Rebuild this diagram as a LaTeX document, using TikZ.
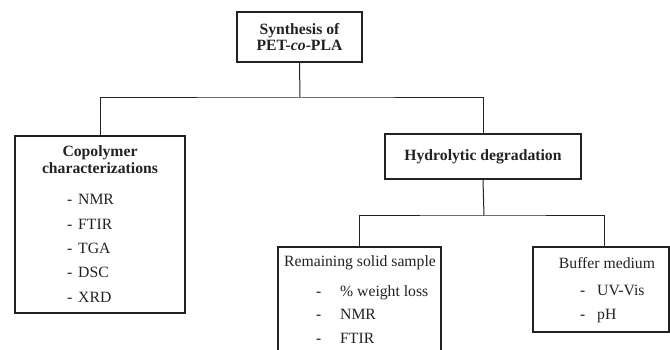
\documentclass[tikz,border=0pt]{standalone}
\usepackage{fontspec}
\setmainfont{Liberation Serif}
\definecolor{ink}{HTML}{222222}
\begin{document}
\begin{tikzpicture}[x=1pt,y=-1pt,
  box/.style={draw=ink, line width=1.1pt, inner sep=0pt},
  conn/.style={draw=ink, line width=1pt},
  ttl/.style={font=\fontsize{15.7}{16.5}\selectfont\bfseries, align=center, inner sep=0pt, text=ink},
  sub/.style={font=\fontsize{15.7}{17}\selectfont, inner sep=0pt, text=ink},
  itm/.style={font=\fontsize{15.7}{17}\selectfont, inner sep=0pt, anchor=base west, text=ink},
]
\useasboundingbox (0,0) rectangle (670,350);
\clip (0,0) rectangle (670,350);

% top box
\node[box, minimum width=125pt, minimum height=50pt] (top) at (299.5,37) {};
\node[ttl] (toptxt) at (299.5,37) {Synthesis of\\PET-\textit{co}-PLA};

% left box
\node[box, minimum width=170pt, minimum height=177pt] (left) at (100,224.5) {};
\node[ttl] (lefttxt) at (100,159.5) {Copolymer\\characterizations};
\node[itm] (l1d) at (67,205) {-};
\node[itm] (l1) at (78,205) {NMR};
\node[itm] (l2d) at (67,229.25) {-};
\node[itm] (l2) at (78,229.25) {FTIR};
\node[itm] (l3d) at (67,253.5) {-};
\node[itm] (l3) at (78,253.5) {TGA};
\node[itm] (l4d) at (67,277.75) {-};
\node[itm] (l4) at (78,277.75) {DSC};
\node[itm] (l5d) at (67,302) {-};
\node[itm] (l5) at (78,302) {XRD};

% hydrolytic box
\node[box, minimum width=196pt, minimum height=45pt] (hyd) at (483,156.5) {};
\node[ttl] (hydtxt) at (483,157) {Hydrolytic degradation};

% remaining solid sample box (runs past the lower edge)
\node[box, minimum width=163pt, minimum height=160pt] (rem) at (359.5,327) {};
\node[sub] (remtxt) at (360,263) {Remaining solid sample};
\node[itm] (r1d) at (316,296) {-};
\node[itm] (r1) at (340,296) {\% weight loss};
\node[itm] (r2d) at (316,319.5) {-};
\node[itm] (r2) at (340,319.5) {NMR};
\node[itm] (r3d) at (316,343) {-};
\node[itm] (r3) at (340,343) {FTIR};

% buffer medium box
\node[box, minimum width=136pt, minimum height=85pt] (buf) at (601,289.5) {};
\node[sub] (buftxt) at (607,263) {Buffer medium};
\node[itm] (b1d) at (580,295.5) {-};
\node[itm] (b1) at (597,295.5) {UV-Vis};
\node[itm] (b2d) at (580,319) {-};
\node[itm] (b2) at (597,319) {pH};

% connectors
\coordinate (j1) at (300,98);
\coordinate (j2) at (484,216);
\draw[conn] (top.south) -- (j1);
\draw[conn] (left.north) |- (j1) -| (hyd.north);
\draw[conn] (hyd.south) -- (j2);
\draw[conn] (rem.north) |- (j2) -| ([xshift=3pt]buf.north);
\end{tikzpicture}
\end{document}
